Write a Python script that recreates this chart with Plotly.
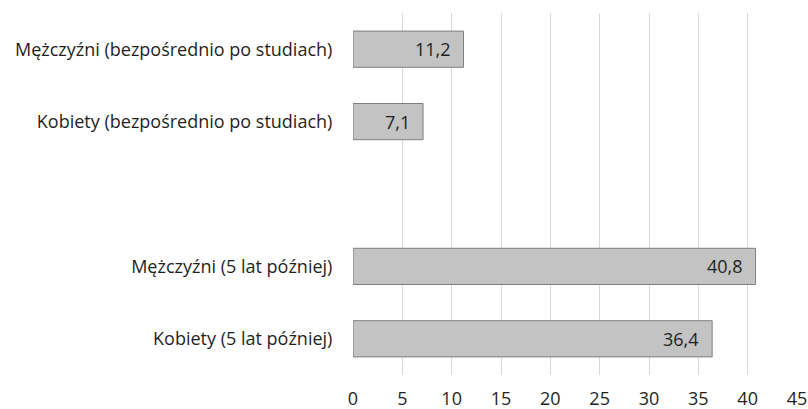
import plotly.graph_objects as go

# Categories top to bottom; a blank slot separates the two groups
categories = [
    "Mężczyźni (bezpośrednio po studiach)",
    "Kobiety (bezpośrednio po studiach)",
    " ",
    "Mężczyźni (5 lat później)",
    "Kobiety (5 lat później)",
]
values = [11.2, 7.1, None, 40.8, 36.4]
x_ticks = [0, 5, 10, 15, 20, 25, 30, 35, 40, 45]

FONT = "'Open Sans', sans-serif"
FONT_SIZE = 18
TEXT_COLOR = "#1f1f1f"

fig = go.Figure(
    go.Bar(
        x=values,
        y=categories,
        orientation="h",
        marker=dict(color="#c3c3c3", line=dict(color="#7f7f7f", width=1)),
        hoverinfo="skip",
    )
)

# Value labels placed just inside the right end of each bar
for cat, val in zip(categories, values):
    if val is None:
        continue
    fig.add_annotation(
        x=val,
        y=cat,
        text=f"{val:.1f}".replace(".", ","),
        showarrow=False,
        xanchor="right",
        xshift=-11,
        font=dict(family=FONT, size=FONT_SIZE, color=TEXT_COLOR),
    )

fig.update_layout(
    width=808,
    height=409,
    margin=dict(l=353, r=11, t=13, b=34),
    paper_bgcolor="white",
    plot_bgcolor="white",
    bargap=0.5,
    showlegend=False,
    separators=", ",
    font=dict(family=FONT, size=FONT_SIZE, color=TEXT_COLOR),
    xaxis=dict(
        range=[0, 45],
        tickvals=x_ticks,
        automargin=False,
        showgrid=True,
        gridcolor="#d9d9d9",
        gridwidth=1,
        zeroline=False,
        showline=False,
        ticks="outside",
        ticklen=7,
        tickcolor="rgba(0,0,0,0)",
        tickfont=dict(family=FONT, size=FONT_SIZE, color=TEXT_COLOR),
    ),
    yaxis=dict(
        categoryorder="array",
        categoryarray=categories,
        autorange="reversed",
        automargin=False,
        showgrid=False,
        zeroline=False,
        showline=False,
        ticks="outside",
        ticklen=16,
        tickcolor="rgba(0,0,0,0)",
        tickfont=dict(family=FONT, size=FONT_SIZE, color=TEXT_COLOR),
    ),
)

fig.write_html("out.html")
